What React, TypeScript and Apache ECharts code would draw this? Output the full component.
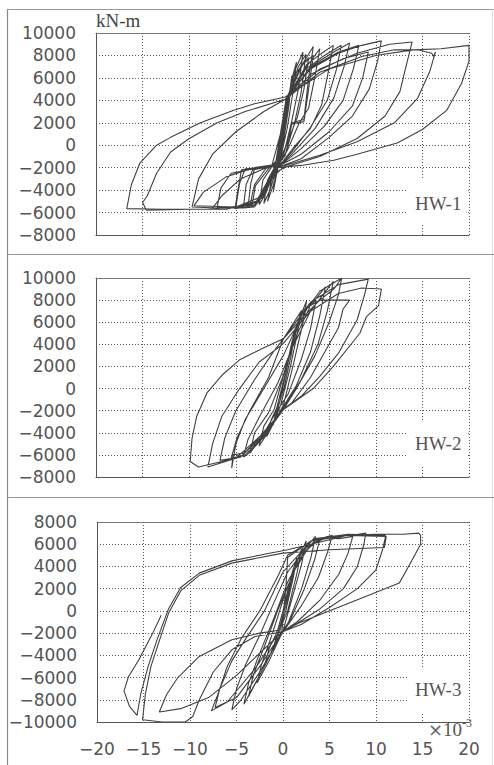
import React, { useEffect, useRef } from 'react';
import * as echarts from 'echarts';

// x: rotation (x10^-3 rad), y: moment (kN-m)
const xMin = -20;
const xMax = 20;
const xInterval = 5;
const yInterval = 2000;
const panelNames = ['HW-1', 'HW-2', 'HW-3'];
const yMins = [-8000, -8000, -10000];
const yMaxs = [10000, 10000, 8000];
const unitLabel = 'kN-m';
const expSign = '×';
const expBase = '10';
const expPower = '-3';

const hw1: number[][] = [
  [0, 0], [0.5, 3000], [1.0, 6200],
  [0.7, 3600], [0.1, 300], [-0.5, -2000], [-1.0, -4200],
  [-0.7, -2300], [-0.1, 200], [0.5, 3600], [1.1, 6200], [1.5, 7400],
  [1.1, 4600], [0.5, 1500], [-0.3, -1500], [-1.0, -3600], [-1.6, -5000],
  [-1.2, -3200], [-0.6, -1900], [0.1, 1500], [0.5, 4000], [1.4, 6800], [2.2, 8300],
  [1.7, 5000], [1.0, 2200], [0.2, -600], [-0.6, -2000], [-1.3, -3900], [-2.0, -5200],
  [-1.6, -3100], [-0.8, -1900], [0.2, 2600], [0.6, 4200], [1.7, 7000], [2.5, 8100],
  [2.0, 4700], [1.3, 2000], [0.3, -800], [-0.8, -2100], [-1.8, -4300], [-2.5, -5300],
  [-2.1, -3100], [-1.2, -2000], [0.1, 2000], [0.5, 4300], [2.0, 7100], [3.3, 8000],
  [2.8, 5000], [2.3, 2100], [1.0, 1900], [0.3, -900], [-0.8, -2000], [-2.0, -4200], [-3.0, -5300], [-3.7, -5500],
  [-3.4, -3400], [-3.0, -2100], [-1.6, -2000], [-0.5, -1700], [0.3, 3400], [0.6, 4300], [2.2, 7300], [3.3, 8800],
  [2.8, 6000], [2.3, 2300], [1.0, 2000], [0.4, -600], [-0.7, -2000], [-2.2, -4600], [-3.5, -5400],
  [-3.0, -3500], [-1.8, -2100], [-0.4, -1500], [0.2, 2000], [0.5, 4200], [1.5, 6500], [2.8, 7800],
  [2.3, 5000], [1.6, 2500], [0.4, 0], [-0.6, -1900], [-1.6, -3800], [-2.6, -5100], [-3.3, -5500],
  [-2.9, -3600], [-1.4, -2000], [-0.2, -1000], [0.4, 3200], [0.8, 4600], [2.4, 6800], [4.0, 8600],
  [3.5, 6200], [2.8, 3300], [1.8, 2000], [0.5, -500], [-0.6, -2000], [-2.0, -4300], [-3.0, -5500], [-4.2, -5600],
  [-3.9, -3500], [-3.2, -2200], [-2.0, -2000], [-0.6, -1800], [0.3, 3600], [0.7, 4500], [2.6, 7200], [4.2, 8200], [5.45, 8900],
  [4.9, 6500], [4.2, 3600], [3.0, 1500], [1.2, -200], [-0.4, -1900], [-2.0, -3800], [-3.0, -5300], [-4.0, -5500], [-5.1, -5650],
  [-4.7, -3600], [-4.4, -2200], [-2.5, -2000], [-0.8, -1800], [0.1, 1500], [0.5, 4100], [2.5, 6800], [4.5, 8000], [6.3, 8900],
  [5.8, 6800], [4.8, 4000], [3.0, 1600], [1.0, -600], [-0.6, -2000], [-2.5, -4800], [-3.8, -5500], [-5.0, -5500],
  [-4.6, -3400], [-4.0, -2100], [-2.0, -2000], [-0.5, -1600], [0.4, 4000], [3.0, 7000], [5.5, 8300], [7.2, 9100],
  [6.6, 7000], [5.5, 4200], [3.5, 1500], [1.0, -800], [-0.7, -2100], [-2.5, -5000], [-4.5, -5500], [-7.5, -5600],
  [-6.5, -4500], [-4.5, -3000], [-2.0, -2100], [-0.5, -1500], [0.5, 4300], [3.0, 6900], [6.0, 8300], [8.2, 8900],
  [7.6, 6800], [6.5, 4000], [4.5, 1700], [2.0, -300], [-0.5, -2000], [-2.5, -5000], [-5.0, -5600], [-7.0, -5500],
  [-6.6, -3800], [-5.5, -2500], [-3.0, -2100], [-0.8, -1900], [0.4, 4200], [3.0, 6800], [6.0, 8200], [8.5, 8900], [10.6, 9300],
  [10.2, 7500], [9.3, 5000], [7.5, 2600], [5.0, 700], [2.0, -1200], [-0.6, -2000], [-2.0, -4600], [-4.0, -5600], [-7.0, -5600], [-9.7, -5500],
  [-9.0, -3000], [-7.5, -800], [-5.0, 1200], [-2.0, 3000], [0.3, 4100], [3.0, 6300], [6.5, 7700], [9.2, 8300],
  [8.6, 6000], [7.5, 3500], [5.0, 1200], [2.0, -800], [-0.5, -1900], [-2.0, -4500], [-5.0, -5500], [-9.5, -5400],
  [-8.5, -4200], [-6.0, -2800], [-3.0, -2000], [-0.6, -1700], [0.4, 4200], [4.0, 6800], [8.0, 8200], [11.5, 9000], [13.9, 9200],
  [13.3, 7200], [12.6, 4800], [11.0, 2600], [8.0, 600], [4.0, -1000], [0.5, -1900], [-1.2, -2600], [-2.8, -5000], [-6.0, -5700], [-10.0, -5700], [-14.6, -5800], [-15.0, -5100],
  [-14.5, -4500], [-13.5, -2500], [-12.0, -600], [-10.0, 600], [-7.0, 2000], [-4.0, 3000], [0.3, 4100], [4.0, 6500], [8.5, 7900], [12.0, 8500], [14.5, 8500], [16.0, 8200], [16.2, 7900], [16.4, 8300],
  [15.8, 6600], [14.5, 4200], [12.0, 2000], [8.0, 300], [4.0, -900], [0.3, -1800], [-1.5, -3200], [-3.0, -5300], [-8.0, -5700], [-13.0, -5700], [-16.7, -5650],
  [-16.2, -3500], [-15.3, -1600], [-13.5, 0], [-12.0, 700], [-8.8, 2000], [-5.3, 3100], [-3.0, 3700], [0.3, 4300], [5.0, 6800], [10.0, 8000], [14.0, 8500], [17.0, 8600], [20.0, 8900],
  [20.0, 7500], [19.2, 5500], [17.6, 3100], [15.0, 1400], [12.3, 200], [8.0, -800], [5.5, -1340], [2.0, -1800], [-0.6, -2000], [-1.3, -2900]
];

const hw2: number[][] = [
  [0, 0], [0.4, 1500], [1.0, 4000], [1.4, 5600],
  [1.0, 3300], [0.2, 200], [-0.5, -1800], [-1.0, -3300],
  [-0.6, -1700], [0.2, 1000], [1.0, 4200], [2.0, 7000],
  [1.6, 5000], [0.8, 1800], [-0.2, -1500], [-1.0, -3200], [-1.7, -4350],
  [-1.2, -2800], [-0.3, -1200], [0.6, 2500], [1.6, 5800], [2.6, 8000],
  [2.1, 5600], [1.2, 2300], [0.1, -1500], [-1.2, -3500], [-2.5, -5200],
  [-2.0, -3400], [-0.9, -1900], [0.3, 1800], [1.5, 5200], [2.6, 7200], [3.6, 8000],
  [3.0, 5400], [2.0, 2600], [0.6, -500], [-0.8, -2300], [-2.3, -4500], [-3.5, -5850],
  [-3.0, -4000], [-1.5, -2200], [0.0, 1000], [1.5, 4800], [3.0, 7500], [4.6, 9200],
  [4.0, 6600], [3.0, 3300], [1.5, 300], [-0.2, -2000], [-2.0, -4400], [-3.8, -6000], [-4.2, -6200],
  [-3.7, -4600], [-2.5, -2600], [-0.5, 500], [1.0, 3600], [3.0, 7000], [5.45, 9700],
  [4.8, 7000], [3.8, 4000], [2.0, 800], [0.0, -1900], [-2.0, -4200], [-4.0, -5800], [-5.3, -6000], [-5.45, -7200],
  [-5.0, -5000], [-4.0, -2800], [-2.0, 0], [0.1, 3000], [2.0, 6500], [4.0, 8800], [6.35, 10000],
  [6.0, 8500], [5.0, 6000], [3.5, 3000], [1.5, 0], [0.1, -1900], [-2.0, -4300], [-4.0, -6000], [-5.5, -6300],
  [-4.9, -4500], [-3.5, -2000], [-1.5, 1000], [0.1, 4500], [2.0, 7000], [4.0, 8000], [7.2, 8000],
  [6.5, 7200], [6.0, 5500], [5.0, 4000], [3.0, 1000], [1.0, -1300], [0.0, -1900], [-2.0, -4000], [-4.5, -6200], [-6.7, -6500],
  [-6.2, -4500], [-5.0, -2000], [-3.0, 800], [-1.0, 3300], [0.1, 4500], [3.0, 7800], [6.0, 9400], [9.2, 9900],
  [8.8, 8500], [8.0, 6200], [6.0, 3200], [4.0, 1100], [2.0, -700], [0.1, -1900], [-2.5, -4400], [-5.0, -6300], [-8.0, -7100],
  [-7.5, -5000], [-6.5, -2500], [-4.6, 0], [-2.5, 2400], [0.0, 4000], [3.0, 7000], [6.0, 8600], [8.5, 9100], [10.6, 9000],
  [10.3, 7500], [9.0, 6500], [8.3, 5000], [5.45, 2000], [3.3, 0], [0.1, -1900], [-2.0, -4000], [-5.0, -6300], [-9.0, -7100], [-9.9, -6600],
  [-9.7, -4500], [-9.2, -2500], [-8.1, -400], [-6.5, 1200], [-4.6, 2600], [-2.0, 3700], [0.1, 4500], [2.0, 6300], [4.0, 8000], [5.5, 9000], [6.35, 10000]
];

const hw3: number[][] = [
  [0, 0], [0.5, 1800], [1.0, 3500], [1.5, 4800],
  [1.1, 3000], [0.3, 0], [-0.5, -2000], [-1.0, -3500],
  [-0.6, -2200], [0.3, 500], [1.2, 3600], [2.0, 5600],
  [1.5, 3400], [0.5, 0], [-0.6, -2200], [-1.4, -4000], [-2.0, -5000],
  [-1.5, -3400], [-0.6, -1800], [0.5, 1500], [1.5, 4500], [2.5, 6300],
  [2.0, 4200], [1.0, 1200], [0.0, -1800], [-1.5, -4500], [-2.8, -6500],
  [-2.3, -4800], [-1.2, -2200], [0.2, 1500], [1.8, 5000], [3.5, 6700],
  [3.0, 4800], [2.0, 2000], [0.6, -1000], [-0.2, -2000], [-2.0, -5000], [-3.7, -7700],
  [-3.2, -5800], [-2.0, -3200], [-0.5, 200], [1.2, 3600], [2.6, 5500], [4.0, 6600],
  [3.4, 4600], [2.3, 2000], [0.8, -800], [-0.1, -1900], [-2.2, -5300], [-4.2, -8400],
  [-3.7, -6500], [-2.6, -4000], [-1.0, -700], [0.5, 2600], [2.2, 5200], [3.5, 6400], [5.3, 6800],
  [4.8, 5300], [3.8, 3000], [2.0, 500], [0.0, -1900], [-2.5, -5500], [-4.5, -8000], [-5.5, -8900],
  [-5.0, -7000], [-4.0, -4800], [-2.5, -2200], [-1.0, 700], [0.5, 3500], [2.5, 5700], [4.5, 6600], [6.0, 6500], [7.5, 6700],
  [7.0, 5200], [6.0, 3300], [4.0, 1000], [1.5, -1000], [-0.1, -1900], [-2.5, -5000], [-5.0, -7800], [-7.3, -8700],
  [-6.8, -7000], [-5.5, -4500], [-4.0, -2500], [-2.0, 0], [0.0, 3500], [2.5, 5800], [5.0, 6700], [7.5, 6800], [8.9, 7000],
  [8.7, 6000], [8.0, 4000], [6.5, 2000], [4.0, 200], [1.0, -1400], [-0.5, -2000], [-3.0, -5200], [-6.0, -8200], [-7.7, -9000],
  [-7.0, -7500], [-6.0, -5000], [-4.5, -2500], [-2.5, 0], [-0.5, 3200], [0.5, 5000], [3.5, 6500], [7.0, 6900], [11.0, 6800],
  [11.0, 6600], [10.7, 5500], [10.0, 3700], [8.0, 2000], [5.0, 300], [2.0, -1200], [-0.1, -1900], [-2.5, -3800], [-5.0, -5800], [-8.0, -7800], [-11.0, -8800], [-13.3, -9100],
  [-12.5, -7500], [-11.3, -6000], [-9.0, -4100], [-5.5, -2600], [-2.5, -2000], [-0.1, -1700], [0.3, 2000], [0.5, 4800], [3.0, 6300], [7.0, 6800], [11.1, 6700],
  [10.9, 5700], [5.0, 5500], [0.0, 5200], [-5.5, 4300], [-9.0, 3200], [-11.0, 1800], [-12.3, -200], [-13.3, -2700], [-14.2, -5000], [-14.8, -7500], [-15.1, -9800],
  [-13.0, -10000], [-10.5, -10000], [-9.7, -9500], [-9.0, -8000], [-7.5, -5500], [-5.5, -3500], [-3.0, -2300], [-0.1, -1900], [1.7, -1100], [5.3, 100], [10.7, 1900], [12.5, 2500], [13.5, 4000], [14.8, 6000], [14.8, 6800], [14.6, 7000],
  [13.0, 6900], [10.0, 6900], [7.0, 6800], [4.0, 6200], [0.5, 5500], [-2.0, 5100], [-5.5, 4500], [-9.0, 3400], [-11.0, 2100], [-12.3, 200], [-13.5, -2500], [-14.5, -5000], [-15.3, -7500], [-15.7, -9400],
  [-16.5, -8600], [-17.1, -7200], [-16.6, -5900], [-15.5, -4400], [-14.0, -2000], [-13.1, -400]
];

const panelData = [hw1, hw2, hw3];

const grids = [
  { left: 96, top: 33, width: 373, height: 202 },
  { left: 96, top: 278, width: 373, height: 199 },
  { left: 97, top: 522, width: 372, height: 200 },
];
const labelBoxes = [
  { x: 407, y: 178, w: 61, h: 46, ty: 203 },
  { x: 407, y: 422, w: 61, h: 43, ty: 443 },
  { x: 407, y: 667, w: 61, h: 46, ty: 689 },
];

const fmt = (v: number) => (v < 0 ? '\u2212' + Math.abs(v) : String(v));

export default function App() {
  const ref = useRef<HTMLDivElement>(null);
  useEffect(() => {
    if (!ref.current) return;
    const chart = echarts.init(ref.current, null, { renderer: 'svg' });
    const gridLine = { show: true, lineStyle: { color: '#555', width: 1, type: [1, 2] } };
    const xAxes: any[] = [];
    const yAxes: any[] = [];
    const series: any[] = [];
    grids.forEach((g, i) => {
      xAxes.push({
        type: 'value', gridIndex: i, min: xMin, max: xMax, interval: xInterval,
        axisLine: { show: true, onZero: false, lineStyle: { color: '#555', width: 1 } },
        axisTick: { show: false },
        splitLine: gridLine,
        axisLabel: {
          show: i === 2, formatter: fmt, margin: 18, color: '#555',
          fontFamily: 'DejaVu Sans', fontSize: 17,
        },
      });
      yAxes.push({
        type: 'value', gridIndex: i, min: yMins[i], max: yMaxs[i], interval: yInterval,
        axisLine: { show: true, onZero: false, lineStyle: { color: '#555', width: 1 } },
        axisTick: { show: false },
        splitLine: gridLine,
        axisLabel: {
          formatter: fmt, margin: 20, color: '#555',
          fontFamily: 'DejaVu Sans', fontSize: 17,
        },
      });
      series.push({
        type: 'line', xAxisIndex: i, yAxisIndex: i, data: panelData[i],
        showSymbol: false, symbol: 'none', silent: true, z: 3,
        lineStyle: { color: '#404040', width: 1.1 },
      });
    });
    grids.forEach((g, i) => {
      xAxes.push({
        type: 'value', gridIndex: i, min: xMin, max: xMax, position: 'top',
        axisLine: { show: true, onZero: false, lineStyle: { color: '#777', width: 1 } },
        axisTick: { show: false }, axisLabel: { show: false }, splitLine: { show: false },
      });
    });
    const graphic: any[] = [
      { type: 'line', z: 1, shape: { x1: 7.5, y1: 9, x2: 7.5, y2: 765 }, style: { stroke: '#888', lineWidth: 1.2 } },
      { type: 'line', z: 1, shape: { x1: 7, y1: 9.5, x2: 494, y2: 9.5 }, style: { stroke: '#999', lineWidth: 1 } },
      { type: 'line', z: 1, shape: { x1: 492.5, y1: 9, x2: 492.5, y2: 765 }, style: { stroke: '#ddd', lineWidth: 1 } },
      { type: 'line', z: 1, shape: { x1: 7, y1: 254.5, x2: 494, y2: 254.5 }, style: { stroke: '#999', lineWidth: 1 } },
      { type: 'line', z: 1, shape: { x1: 7, y1: 497.5, x2: 494, y2: 497.5 }, style: { stroke: '#999', lineWidth: 1 } },
      { type: 'text', z: 5, x: 96, y: 20, style: { text: unitLabel, fontFamily: 'Liberation Serif', fontSize: 19, fill: '#444', textVerticalAlign: 'middle' } },
      { type: 'text', z: 5, x: 428, y: 729, style: { text: expSign, fontFamily: 'DejaVu Sans', fontSize: 18, fill: '#666', textVerticalAlign: 'middle' } },
      { type: 'text', z: 5, x: 443, y: 729, style: { text: expBase, fontFamily: 'Liberation Serif', fontSize: 19, fill: '#555', textVerticalAlign: 'middle' } },
      { type: 'text', z: 5, x: 462, y: 723, style: { text: expPower, fontFamily: 'Liberation Serif', fontSize: 12, fill: '#555', textVerticalAlign: 'middle' } },
    ];
    labelBoxes.forEach((b, i) => {
      graphic.push({ type: 'rect', z: 2, shape: { x: b.x, y: b.y, width: b.w, height: b.h }, style: { fill: '#fff' } });
      graphic.push({ type: 'text', z: 5, x: 415, y: b.ty, style: { text: panelNames[i], fontFamily: 'Liberation Serif', fontSize: 19, fill: '#555', textVerticalAlign: 'middle' } });
    });
    chart.setOption({
      animation: false,
      backgroundColor: '#fff',
      grid: grids.map((g) => ({ ...g, containLabel: false })),
      xAxis: xAxes,
      yAxis: yAxes,
      series,
      graphic,
    });
    return () => chart.dispose();
  }, []);
  return <div ref={ref} style={{ position: 'fixed', left: 0, top: 0, width: 494, height: 765 }} />;
}
